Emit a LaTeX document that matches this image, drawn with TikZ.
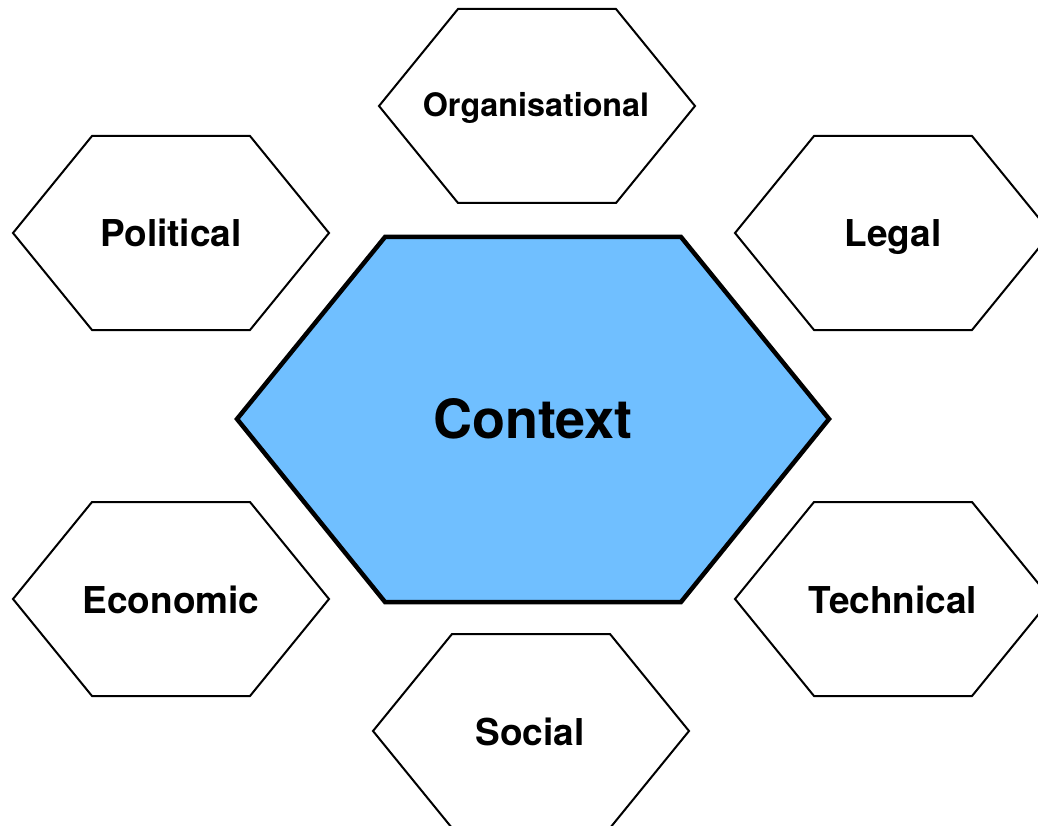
\documentclass[tikz,border=0pt]{standalone}
\usepackage{fontspec}
\setmainfont{TeX Gyre Heros}
\usepackage[]{xcolor}
\usepackage{tikz}

\definecolor{ctxblue}{HTML}{70BFFF}

\begin{document}
\begin{tikzpicture}[x=1pt,y=-1pt,
    hexside/.style={draw=black,line width=2pt,line join=miter,fill=white},
    hexcore/.style={draw=black,line width=4.5pt,line join=miter,fill=ctxblue},
    lbl/.style={anchor=base,inner sep=0pt,font=\bfseries\fontsize{37}{41}\selectfont}]
    \clip (0,0) rectangle (1038,826);
    % the six outer hexagons
    \foreach \cx/\cy in {171/233, 537/106, 893/233, 171/599, 893/599, 531/731}
        \draw[hexside] (\cx-158,\cy) -- (\cx-79,\cy-97) -- (\cx+79,\cy-97)
            -- (\cx+158,\cy) -- (\cx+79,\cy+97) -- (\cx-79,\cy+97) -- cycle;
    % the centre one
    \draw[hexcore] (237,419) -- (385,237) -- (681,237) -- (829,419)
        -- (681,602) -- (385,602) -- cycle;
    \node[lbl] (political) at (171,247) {Political};
    \node[lbl,font=\bfseries\fontsize{32.3}{36}\selectfont] (organisational) at (536,117) {Organisational};
    \node[lbl] (legal) at (893,247) {Legal};
    \node[lbl] (economic) at (171,613) {Economic};
    \node[lbl] (technical) at (893,613) {Technical};
    \node[lbl] (social) at (530,745) {Social};
    \node[lbl,font=\bfseries\fontsize{54}{58}\selectfont] (context) at (533,438) {Context};
\end{tikzpicture}
\end{document}
